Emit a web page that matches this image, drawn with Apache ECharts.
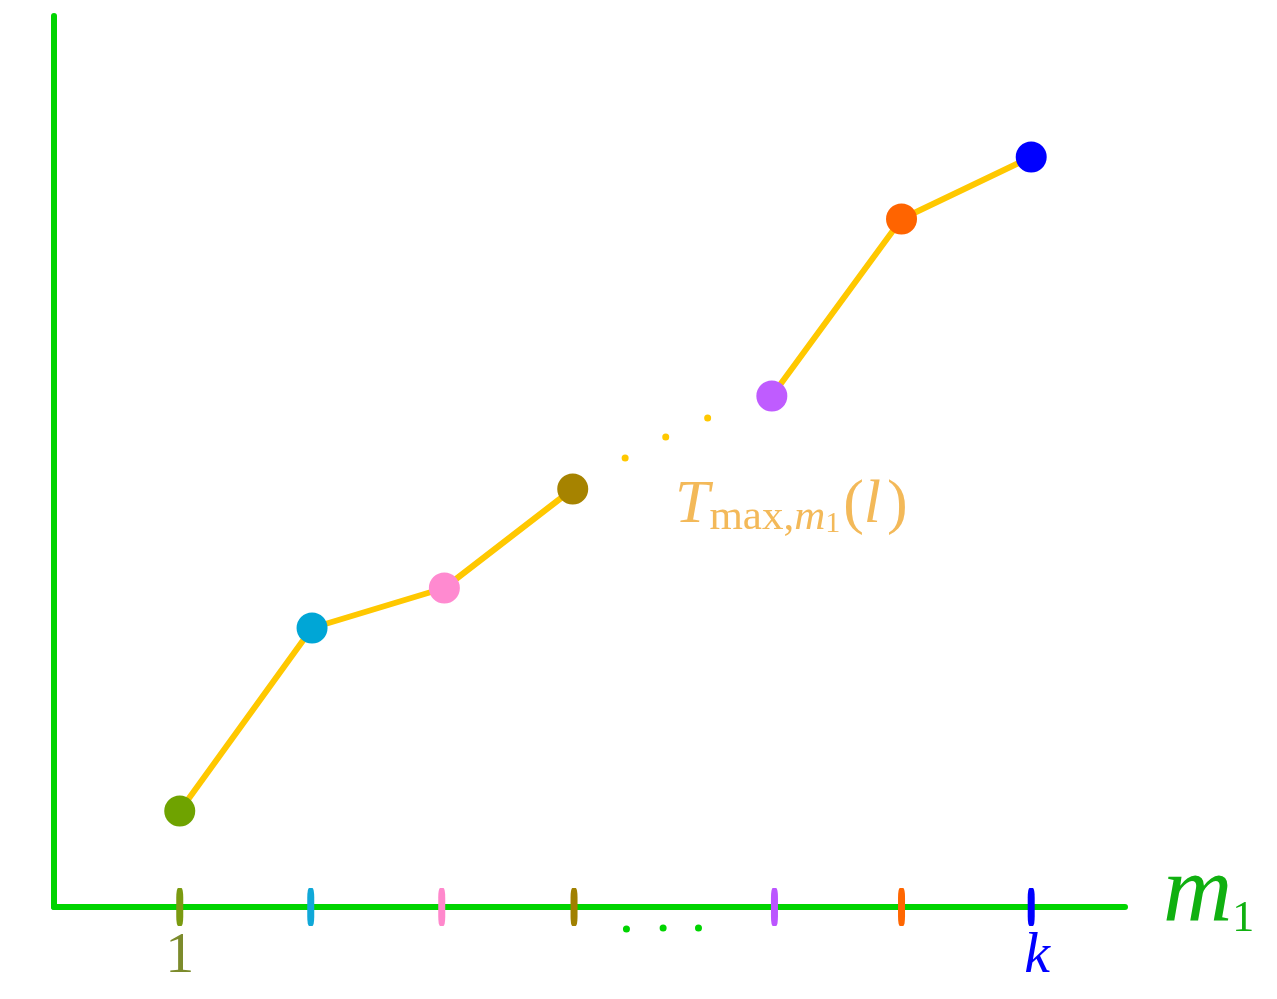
<!DOCTYPE html>
<html>
<head>
<meta charset="utf-8">
<script src="https://cdn.jsdelivr.net/npm/echarts@6/dist/echarts.min.js"></script>
<style>html,body{margin:0;padding:0;background:#fff;}#c{width:1277px;height:999px;}</style>
</head>
<body>
<div id="c"></div>
<script>
// ---- data ----
const pointX = [1, 2.01, 3.02, 4.0, 5.52, 6.51, 7.5];
const pointY = [0.96, 2.79, 3.19, 4.18, 5.11, 6.88, 7.50];
const pointColors = ['#6fa300', '#00a6d6', '#ff8ad0', '#a68300', '#bf5cff', '#ff6400', '#0000ff'];
const segmentBreakAfter = 3; // gap in the line between index 3 and 4
const tickX = [1, 2, 3, 4.01, 5.54, 6.51, 7.5];
const tickColors = ['#7a9a10', '#10a8d8', '#ff88cc', '#a08000', '#bb55ff', '#ff6600', '#0000ff'];
const tickLabels = ['1', '', '', '', '', '', 'k'];
const ellipsisUpperX = [4.40, 4.71, 5.03];
const ellipsisUpperY = [4.49, 4.70, 4.89];
const ellipsisLowerX = [4.41, 4.69, 4.96];
const ellipsisLowerY = [-0.22, -0.21, -0.21];
const curveLabelAt = [4.78, 4.01];

// ---- build ----
const lineData = [];
pointX.forEach((x, i) => {
  lineData.push([x, pointY[i]]);
  if (i === segmentBreakAfter) lineData.push(['-', '-']);
});
const pointData = pointX.map((x, i) => ({ value: [x, pointY[i]], itemStyle: { color: pointColors[i] } }));
const tickData = tickX.map((x, i) => ({
  value: [x, 0],
  itemStyle: { color: tickColors[i] },
  label: {
    show: tickLabels[i] !== '',
    formatter: i === 0 ? '{one|' + tickLabels[i] + '}' : '{k|' + tickLabels[i] + '}'
  }
}));
const serif = '"Liberation Serif", "DejaVu Serif", serif';
const GREEN = '#00d400';
const ORANGE = '#f0a830';

const chart = echarts.init(document.getElementById('c'), null, { renderer: 'canvas' });
chart.setOption({
  backgroundColor: '#ffffff',
  animation: false,
  grid: { left: 54, right: 152, top: 16, bottom: 92 },
  xAxis: {
    type: 'value', min: 0.04, max: 8.216,
    axisLine: { show: true, onZero: false, lineStyle: { color: GREEN, width: 6, cap: 'round' } },
    axisTick: { show: false }, axisLabel: { show: false }, splitLine: { show: false },
    name: '{m|m}{s|1}',
    nameLocation: 'end',
    nameGap: 38,
    nameTextStyle: {
      padding: [0, 0, 22, 0],
      rich: {
        m: { fontFamily: serif, fontStyle: 'italic', fontSize: 96, color: '#10b010', lineHeight: 90, verticalAlign: 'middle' },
        s: { fontFamily: serif, fontSize: 44, color: '#10b010', lineHeight: 30, verticalAlign: 'bottom', padding: [0, 0, 0, 0] }
      }
    }
  },
  yAxis: {
    type: 'value', min: 0, max: 8.91,
    axisLine: { show: true, onZero: false, lineStyle: { color: GREEN, width: 6, cap: 'round' } },
    axisTick: { show: false }, axisLabel: { show: false }, splitLine: { show: false }
  },
  series: [
    {
      type: 'line', data: lineData, connectNulls: false, showSymbol: false, clip: false,
      lineStyle: { color: '#ffc800', width: 6 }, z: 2
    },
    {
      type: 'scatter', data: pointData, symbol: 'circle', symbolSize: 31, clip: false, z: 3,
      itemStyle: { opacity: 1 }
    },
    {
      type: 'scatter', data: ellipsisUpperX.map((x, i) => [x, ellipsisUpperY[i]]),
      symbol: 'circle', symbolSize: 7, itemStyle: { color: '#ffc800', opacity: 1 }, clip: false, z: 3
    },
    {
      type: 'scatter', data: ellipsisLowerX.map((x, i) => [x, ellipsisLowerY[i]]),
      symbol: 'circle', symbolSize: 7, itemStyle: { color: GREEN, opacity: 1 }, clip: false, z: 3
    },
    {
      type: 'scatter', data: tickData, symbol: 'roundRect', symbolSize: [7, 38], clip: false, z: 4,
      itemStyle: { opacity: 1 },
      label: {
        position: 'bottom', distance: 2,
        rich: {
          one: { fontFamily: serif, fontSize: 58, color: '#7c8b2c', lineHeight: 58 },
          k: { fontFamily: serif, fontStyle: 'italic', fontSize: 58, color: '#0000ff', lineHeight: 58, padding: [0, 0, 0, 12] }
        }
      }
    },
    {
      type: 'scatter', data: [curveLabelAt], symbolSize: 0, clip: false, z: 5,
      label: {
        show: true, position: 'right', distance: 0,
        formatter: '{T|T}{sub|max,}{subm|m}{subs|1}{p|(}{l|l}{p|)}',
        rich: {
          T: { fontFamily: serif, fontStyle: 'italic', fontSize: 62, color: ORANGE, lineHeight: 66, verticalAlign: 'middle' },
          sub: { fontFamily: serif, fontSize: 43, color: ORANGE, lineHeight: 30, verticalAlign: 'bottom' },
          subm: { fontFamily: serif, fontStyle: 'italic', fontSize: 43, color: ORANGE, lineHeight: 30, verticalAlign: 'bottom' },
          subs: { fontFamily: serif, fontSize: 30, color: ORANGE, lineHeight: 8, verticalAlign: 'bottom' },
          p: { fontFamily: serif, fontSize: 62, color: ORANGE, lineHeight: 66, verticalAlign: 'middle', padding: [0, 0, 0, 3] },
          l: { fontFamily: serif, fontStyle: 'italic', fontSize: 62, color: ORANGE, lineHeight: 66, verticalAlign: 'middle', padding: [0, 3, 0, 0] }
        }
      }
    }
  ]
});
</script>
</body>
</html>
